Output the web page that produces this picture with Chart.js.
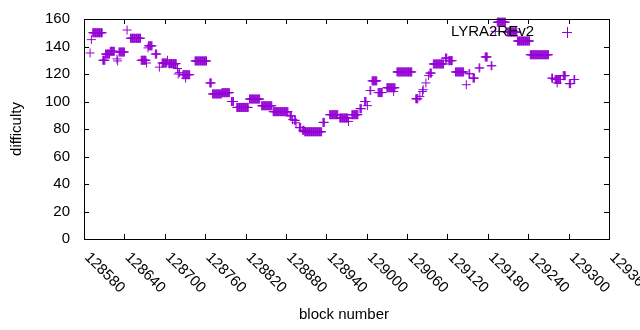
<!DOCTYPE html>
<html>
<head>
<meta charset="utf-8">
<script src="https://cdn.jsdelivr.net/npm/chart.js@4"></script>
<style>
  html, body { margin: 0; padding: 0; background: #fff; }
  #wrap { width: 640px; height: 330px; position: relative; }
</style>
</head>
<body>
<div id="wrap"><canvas id="chart"></canvas></div>
<script>
// runs of consecutive blocks sharing one difficulty
const runStart = [128589,128591,128593,128608,128612,128619,128629,128630,128632,128644,128649,128665,128673,128675,128676,128686,128692,128696,128704,128706,128719,128720,128722,128727,128731,128745,128767,128771,128785,128799,128807,128826,128844,128861,128886,128890,128893,128895,128900,128905,128908,128935,128945,128960,128973,128978,128990,128997,129001,129005,129008,129017,129030,129040,129045,129073,129079,129083,129084,129088,129092,129094,129099,129117,129122,129132,129148,129152,129158,129167,129176,129185,129191,129194,129209,129224,129243,129275,129280,129283,129292,129301,129308];
const runEnd   = [128589,128591,128607,128611,128618,128625,128629,128630,128640,128644,128664,128672,128673,128675,128681,128688,128692,128703,128704,128717,128719,128720,128722,128737,128731,128762,128769,128784,128796,128802,128824,128841,128859,128883,128888,128890,128894,128895,128902,128907,128933,128937,128957,128972,128973,128987,128992,128999,129001,129006,129015,129023,129042,129040,129067,129076,129079,129083,129084,129088,129092,129096,129114,129119,129127,129144,129148,129153,129160,129168,129179,129186,129191,129206,129223,129242,129270,129276,129288,129283,129295,129303,129309];
const runDiff  = [135.3,145,150,130,134.5,136.5,131,129.5,136,152,146,130,128,139,140.5,134.5,125,128,130,127.5,124,120,121,119.5,117,129.5,113.5,105.5,106.4,100,95.7,101.8,96.9,92.6,89.6,86.8,86.3,84.5,81,79,78,84.8,90.4,88,85.5,90.4,94.8,100,97,108,115,106.5,110,107.3,121.5,102,103.7,107.3,108.6,113.5,118.8,120.7,127.3,131.6,129.7,121.5,112.2,120.2,117,124.4,132.4,126,151,157.7,150.5,144,134,117,116,113.5,118.8,113,116];

const xTicks = [128580,128640,128700,128760,128820,128880,128940,129000,129060,129120,129180,129240,129300,129360];
const yTicks = [0,20,40,60,80,100,120,140,160];
const seriesName = "LYRA2REv2";

const purple = "#9400d3";
const font = "15px 'Liberation Sans', Arial, sans-serif";

const points = [];
for (let i = 0; i < runStart.length; i++) {
  for (let b = runStart[i]; b <= runEnd[i]; b++) points.push({x: b, y: runDiff[i]});
}

// gnuplot-like frame, inward ticks, rotated x labels, key and axis titles
const gnuplotDecor = {
  id: "gnuplotDecor",
  afterDraw(chart) {
    const ctx = chart.ctx;
    const a = chart.chartArea;
    const xs = chart.scales.x, ys = chart.scales.y;
    ctx.save();
    ctx.strokeStyle = "#000";
    ctx.lineWidth = 1;
    ctx.strokeRect(Math.round(a.left) + 0.5, Math.round(a.top) + 0.5, Math.round(a.right - a.left), Math.round(a.bottom - a.top));
    ctx.beginPath();
    xTicks.forEach(v => {
      const px = Math.round(xs.getPixelForValue(v)) + 0.5;
      ctx.moveTo(px, a.bottom); ctx.lineTo(px, a.bottom - 5);
      ctx.moveTo(px, a.top); ctx.lineTo(px, a.top + 5);
    });
    yTicks.forEach(v => {
      const py = Math.round(ys.getPixelForValue(v)) + 0.5;
      ctx.moveTo(a.left, py); ctx.lineTo(a.left + 5, py);
      ctx.moveTo(a.right, py); ctx.lineTo(a.right - 5, py);
    });
    ctx.stroke();

    ctx.fillStyle = "#000";
    ctx.font = font;
    xTicks.forEach(v => {
      const px = xs.getPixelForValue(v);
      ctx.save();
      ctx.translate(px + 3, a.bottom + 16);
      ctx.rotate(Math.PI / 4);
      ctx.textAlign = "left";
      ctx.textBaseline = "middle";
      ctx.fillText(String(v), 0, 0);
      ctx.restore();
    });

    ctx.textAlign = "center";
    ctx.textBaseline = "middle";
    ctx.fillText("block number", 344, 315);
    ctx.save();
    ctx.translate(17, 129);
    ctx.rotate(-Math.PI / 2);
    ctx.fillText("difficulty", 0, 0);
    ctx.restore();

    // key
    ctx.textAlign = "right";
    ctx.fillText(seriesName, 534, 32);
    ctx.strokeStyle = purple;
    ctx.beginPath();
    ctx.moveTo(562, 32.5); ctx.lineTo(572, 32.5);
    ctx.moveTo(567.5, 27); ctx.lineTo(567.5, 38);
    ctx.stroke();
    ctx.restore();
  }
};

new Chart(document.getElementById("chart"), {
  type: "scatter",
  data: {
    datasets: [{
      label: seriesName,
      data: points,
      pointStyle: "cross",
      pointRadius: 4.5,
      pointBorderWidth: 1,
      borderColor: purple,
      backgroundColor: purple,
      clip: false
    }]
  },
  options: {
    responsive: true,
    maintainAspectRatio: false,
    animation: false,
    layout: { padding: { left: 0, top: 19, right: 31, bottom: 91 } },
    plugins: { legend: { display: false }, tooltip: { enabled: false } },
    scales: {
      x: {
        type: "linear",
        min: 128580, max: 129360,
        display: false
      },
      y: {
        min: 0, max: 160,
        afterFit(scale) { scale.width = 84; scale.paddingTop = 0; scale.paddingBottom = 0; },
        grid: { display: false, drawTicks: false },
        border: { display: false },
        ticks: { stepSize: 20, padding: 14, color: "#000", font: { family: "'Liberation Sans', Arial, sans-serif", size: 15 } }
      }
    }
  },
  plugins: [gnuplotDecor]
});
</script>
</body>
</html>
